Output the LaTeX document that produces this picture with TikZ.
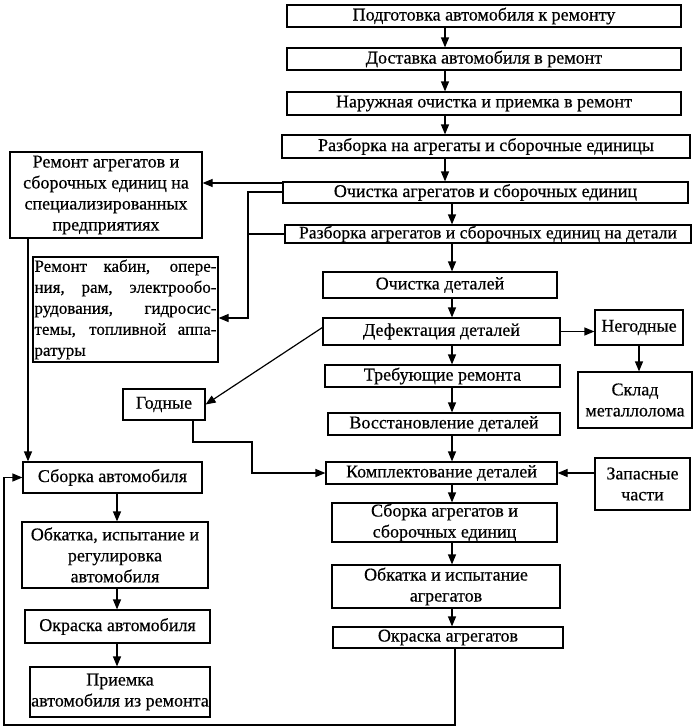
\documentclass[tikz,border=0pt]{standalone}
\usepackage{fontspec}
\setmainfont{Liberation Serif}[BoldFont=Liberation Serif,BoldFeatures={FakeBold=0.5}]
\usetikzlibrary{arrows.meta,calc}
\begin{document}
\begin{tikzpicture}[x=1pt,y=-1pt,
  box/.style={draw,line width=1.2pt,inner sep=0pt,align=center,font=\fontsize{18}{21}\selectfont\bfseries},
  arr/.style={line width=1.2pt,-{Triangle[length=10pt,width=8pt]}},
  ln/.style={line width=1.2pt}]
\useasboundingbox (0,0) rectangle (695,728);
% main column
\node[box,minimum width=394,minimum height=22] (b1) at (484,16) {Подготовка автомобиля к ремонту};
\node[box,minimum width=394,minimum height=22] (b2) at (484,59) {Доставка автомобиля в ремонт};
\node[box,minimum width=394,minimum height=23] (b3) at (484,103.5) {Наружная очистка и приемка в ремонт};
\node[box,minimum width=408,minimum height=23] (b4) at (486,146.5) {Разборка на агрегаты и сборочные единицы};
\node[box,minimum width=405,minimum height=21] (b5) at (485.5,192.5) {Очистка агрегатов и сборочных единиц};
\node[box,minimum width=406,minimum height=18,font=\fontsize{17.6}{21}\selectfont\bfseries] (b6) at (488,234) {Разборка агрегатов и сборочных единиц на детали};
\node[box,minimum width=234,minimum height=26] (b7) at (440,285) {Очистка деталей};
\node[box,minimum width=237,minimum height=27] (b8) at (441.5,331.5) {Дефектация деталей};
\node[box,minimum width=235,minimum height=22] (b9) at (442.5,376) {Требующие ремонта};
\node[box,minimum width=232,minimum height=22] (b10) at (444,424) {Восстановление деталей};
\node[box,minimum width=231,minimum height=22] (b11) at (441.5,473) {Комплектование деталей};
\node[box,minimum width=225,minimum height=39] (b12) at (444.5,522.5) {Сборка агрегатов и\\сборочных единиц};
\node[box,minimum width=228,minimum height=43] (b13) at (446,586.5) {Обкатка и испытание\\агрегатов};
\node[box,minimum width=230,minimum height=21] (b14) at (448,637.5) {Окраска агрегатов};
% left
\node[box,minimum width=192,minimum height=86] (r1) at (106,195) {Ремонт агрегатов и\\сборочных единиц на\\специализированных\\предприятиях};
\node[box,minimum width=185,minimum height=105,align=left,font=\fontsize{17}{21}\selectfont\bfseries] (r2) at (125.5,309.5) {\makebox[182pt][s]{Ремонт кабин, опере-}\\\makebox[182pt][s]{ния, рам, электрообо-}\\\makebox[182pt][s]{рудования, гидросис-}\\\makebox[182pt][s]{темы, топливной аппа-}\\ратуры};
\node[box,minimum width=82,minimum height=31] (g) at (164,404.5) {Годные};
\node[box,minimum width=179,minimum height=31] (a1) at (112.5,477.5) {Сборка автомобиля};
\node[box,minimum width=186,minimum height=66] (a2) at (115,555) {Обкатка, испытание и\\регулировка\\автомобиля};
\node[box,minimum width=185,minimum height=33] (a3) at (117.5,626.5) {Окраска автомобиля};
\node[box,minimum width=180,minimum height=50] (a4) at (120,692) {Приемка\\автомобиля из ремонта};
% right
\node[box,minimum width=88,minimum height=35] (n) at (639,327.5) {Негодные};
\node[box,minimum width=114,minimum height=56] (s) at (635,400) {Склад\\металлолома};
\node[box,minimum width=95,minimum height=52] (z) at (642.5,484) {Запасные\\части};
% helper coordinates
\coordinate (cA) at (445,0);
\coordinate (cB) at (452,0);
\coordinate (cC) at (455,0);
\coordinate (yA) at (0,183);
\coordinate (yB) at (0,192);
\coordinate (yC) at (0,318);
\coordinate (xV) at (248,0);
\coordinate (gx) at (193,0);
\coordinate (g1) at (252,442);
\coordinate (bot) at (0,725);
\coordinate (lx) at (4,0);
\coordinate (rx) at (28,0);
\coordinate (ax) at (117,0);
% main column arrows
\draw[arr] (b1.south -| cA) -- (b2.north -| cA);
\draw[arr] (b2.south -| cA) -- (b3.north -| cA);
\draw[arr] (b3.south -| cA) -- (b4.north -| cA);
\draw[arr] (b4.south -| cA) -- (b5.north -| cA);
\draw[arr] (b5.south -| cB) -- (b6.north -| cB);
\draw[arr] (b6.south -| cB) -- (b7.north -| cB);
\draw[arr] (b7.south -| cB) -- (b8.north -| cB);
\draw[arr] (b8.south -| cB) -- (b9.north -| cB);
\draw[arr] (b9.south -| cB) -- (b10.north -| cB);
\draw[arr] (b10.south -| cB) -- (b11.north -| cB);
\draw[arr] (b11.south -| cB) -- (b12.north -| cB);
\draw[arr] (b12.south -| cB) -- (b13.north -| cB);
\draw[arr] (b13.south -| cB) -- (b14.north -| cB);
% branches
\draw[arr] (b5.west |- yA) -- (r1.east |- yA);
\draw[arr] (b5.west |- yB) -| (xV |- yC) -- (r2.east |- yC);
\draw[ln] (b6.west) -- (b6.west -| xV);
\draw[arr] ($(b8.west)+(0,-4)$) -- (g.east);
\draw[arr] (g.south -| gx) |- (g1) |- (b11.west);
\draw[arr] (b8.east) -- (n.west |- b8.east);
\draw[arr] (n.south) -- (n.south |- s.north);
\draw[arr] (z.west |- b11.east) -- (b11.east);
\draw[arr] (b14.south -| cC) -- (cC |- bot) -- (lx |- bot) |- (a1.west);
\draw[arr] (r1.south -| rx) -- (a1.north -| rx);
\draw[arr] (a1.south -| ax) -- (a2.north -| ax);
\draw[arr] (a2.south -| ax) -- (a3.north -| ax);
\draw[arr] (a3.south -| ax) -- (a4.north -| ax);
\end{tikzpicture}
\end{document}
